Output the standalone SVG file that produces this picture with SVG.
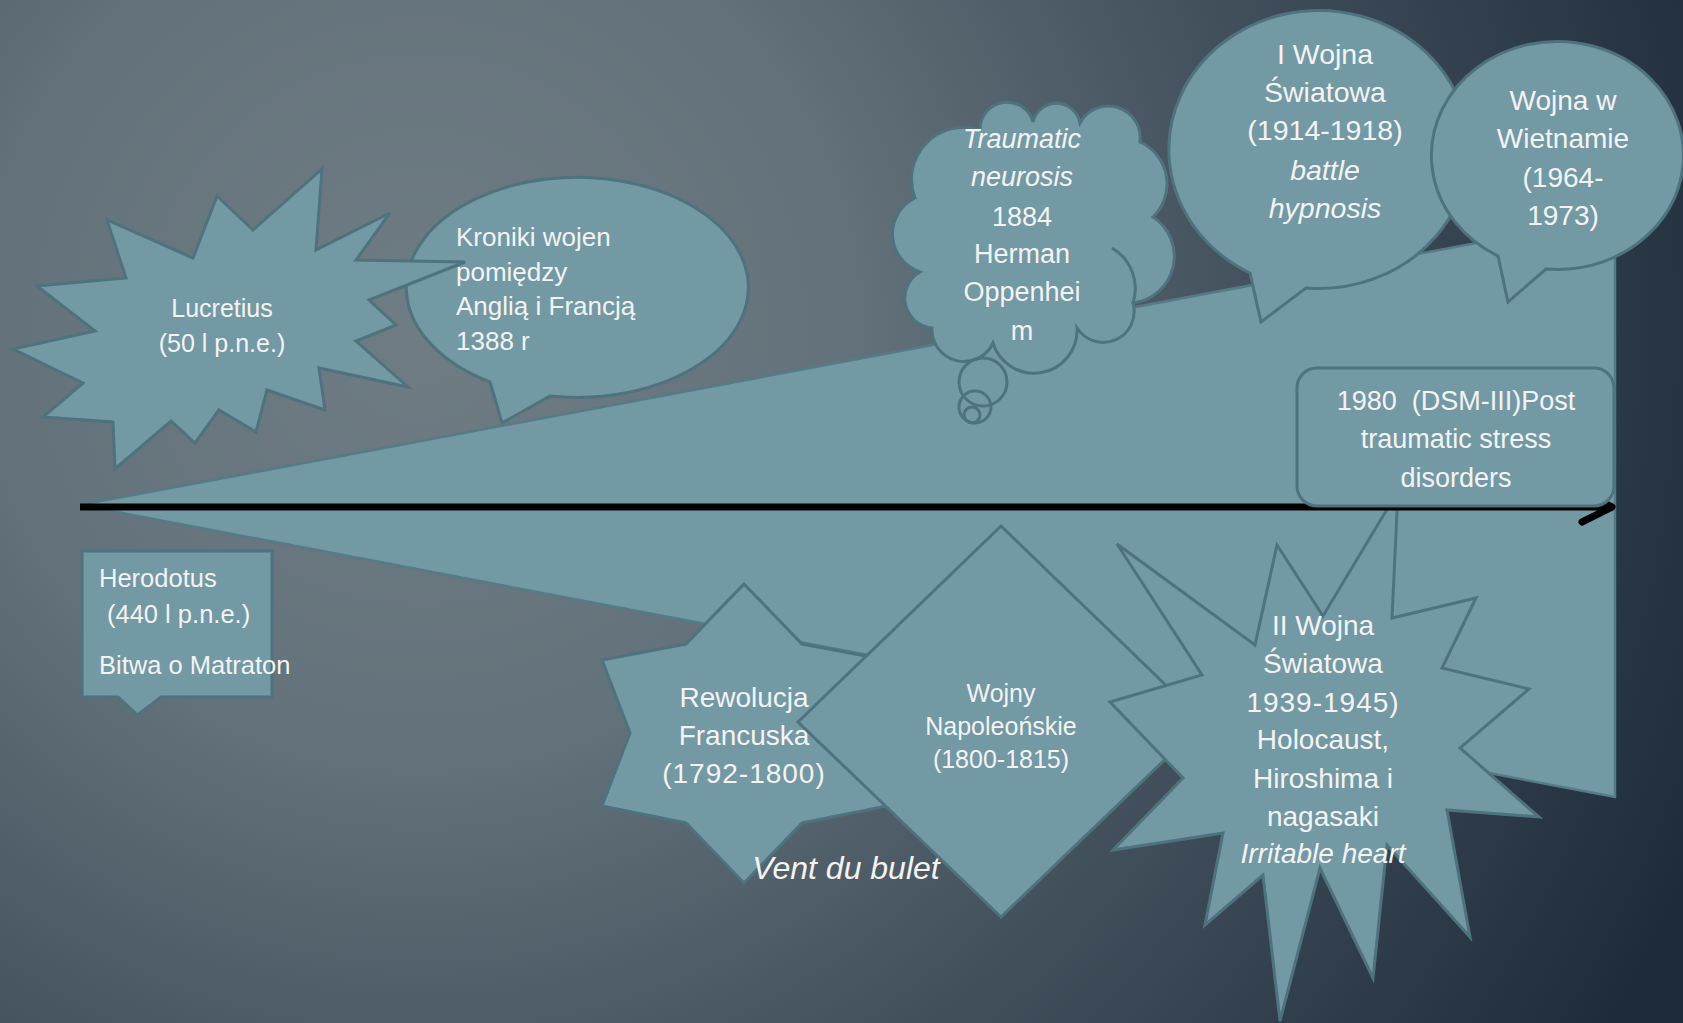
<svg xmlns="http://www.w3.org/2000/svg" width="1683" height="1023" viewBox="0 0 1683 1023">
<defs>
<radialGradient id="bg" gradientUnits="userSpaceOnUse" cx="420" cy="330" r="1400">
<stop offset="0" stop-color="#6f7c84"/>
<stop offset="0.3" stop-color="#64727b"/>
<stop offset="0.6" stop-color="#43515d"/>
<stop offset="1" stop-color="#1d2b39"/>
</radialGradient>
<style>
.s{fill:#7399a4;stroke:#4e737e;stroke-width:3;stroke-linejoin:miter}
.ln{fill:none;stroke:#4e737e;stroke-width:3}
.t{font-family:"Liberation Sans",Arial,sans-serif;fill:#f3f3f3}
.c{text-anchor:middle}
.i{font-style:italic}
</style>
</defs>
<rect width="1683" height="1023" fill="url(#bg)"/>
<g id="wedge">
<polygon points="80,505 1615,217 1615,797" fill="#7399a4" stroke="#557b86" stroke-width="2.5"/>
</g>
<g id="kroniki">
<path class="s" d="M490,382 L502,423 L550,396 A171,110 0 1 0 490,382 Z"/>
<text class="t" font-size="26"><tspan x="456" y="246">Kroniki wojen</tspan><tspan x="456" y="281">pomiędzy</tspan><tspan x="456" y="315">Anglią i Francją</tspan><tspan x="456" y="350">1388 r</tspan></text>
</g>
<g id="lucretius">
<polygon class="s" points="322,169 316,250 390,213 356,260 465,262 369,300 396,325 356,341 408,387 319,368 325,410 267,390 256,432 219,410 195,443 171,421 115,469 113,422 43,417 83,383 13,349 95,331 37,286 126,278 107,220 193,258 217,196 253,230"/>
<text class="t c" font-size="25"><tspan x="222" y="317">Lucretius</tspan><tspan x="222" y="352">(50 l p.n.e.)</tspan></text>
</g>
<g id="herodotus">
<path class="s" d="M82,551 H272 V697 H161 L137.5,715 L118,697 H82 Z"/>
<text class="t" font-size="25.5"><tspan x="99" y="587">Herodotus</tspan><tspan x="107" y="623">(440 l p.n.e.)</tspan><tspan x="99" y="674">Bitwa o Matraton</tspan></text>
</g>
<g id="traumatic-neurosis">
<path class="s" d="M915,198 A52,52 0 0 1 980,130 A27,27 0 0 1 1033,122 A24,24 0 0 1 1080,123 A32,32 0 0 1 1140,142 A46,46 0 0 1 1153,217 A47,47 0 0 1 1133,303 A31,31 0 0 1 1077,328 A43,43 0 0 1 993,343 A32,32 0 0 1 932,328 A30,30 0 0 1 920,272 A40,40 0 0 1 915,198 Z"/>
<path class="ln" d="M1112,248 A47,47 0 0 1 1133,303"/>
<circle class="ln" cx="983" cy="382" r="24"/>
<circle class="ln" cx="975" cy="407" r="16"/>
<circle class="ln" cx="972" cy="415" r="8"/>
<text class="t c" font-size="27"><tspan class="i" x="1022" y="148">Traumatic</tspan><tspan class="i" x="1022" y="186">neurosis</tspan><tspan x="1022" y="226">1884</tspan><tspan x="1022" y="263">Herman</tspan><tspan x="1022" y="301">Oppenhei</tspan><tspan x="1022" y="340">m</tspan></text>
</g>
<g id="wojna-1">
<path class="s" d="M1250,273 L1261,322 L1306,288 A150,139 0 1 0 1250,273 Z"/>
<text class="t c" font-size="28.5"><tspan x="1325" y="64">I Wojna</tspan><tspan x="1325" y="102">Światowa</tspan><tspan x="1325" y="140">(1914-1918)</tspan><tspan class="i" x="1325" y="180">battle</tspan><tspan class="i" x="1325" y="218">hypnosis</tspan></text>
</g>
<g id="wietnam">
<path class="s" d="M1498,256 L1508,302 L1546,269 A126,114 0 1 0 1498,256 Z"/>
<text class="t c" font-size="28"><tspan x="1563" y="110">Wojna w</tspan><tspan x="1563" y="148">Wietnamie</tspan><tspan x="1563" y="187">(1964-</tspan><tspan x="1563" y="225">1973)</tspan></text>
</g>
<g id="rewolucja">
<polygon class="s" points="744,584 802,644 887,660 858,733 887,806 802,823 744,883 686,823 602,806 630,733 602,660 686,644"/>
<text class="t c" font-size="28"><tspan x="744" y="707">Rewolucja</tspan><tspan x="744" y="745">Francuska</tspan><tspan x="744" y="783" letter-spacing="1">(1792-1800)</tspan></text>
</g>
<g id="napoleon">
<polygon class="s" points="1001,526 1204,722 1001,917 798,722"/>
<text class="t c" font-size="25"><tspan x="1001" y="702">Wojny</tspan><tspan x="1001" y="735">Napoleońskie</tspan><tspan x="1001" y="768">(1800-1815)</tspan></text>
</g>
<g id="vent-du-bulet">
<text class="t c i" font-size="32" x="846" y="879">Vent du bulet</text>
</g>
<g id="wojna-2">
<polygon class="s" points="1117,544 1255,645 1277,545 1323,616 1398,491 1392,618 1476,598 1442,668 1529,689 1460,748 1539,817 1447,810 1470,937 1387,845 1373,978 1320,868 1280,1021 1263,875 1205,925 1223,833 1113,850 1183,778 1110,702 1202,675"/>
<text class="t c" font-size="28"><tspan x="1323" y="635">II Wojna</tspan><tspan x="1323" y="673">Światowa</tspan><tspan x="1323" y="712" letter-spacing="1">1939-1945)</tspan><tspan x="1323" y="749">Holocaust,</tspan><tspan x="1323" y="788">Hiroshima i</tspan><tspan x="1323" y="826">nagasaki</tspan><tspan class="i" x="1323" y="863">Irritable heart</tspan></text>
</g>
<g id="connectors">
<line x1="80" y1="507" x2="1611" y2="507" stroke="#000" stroke-width="7"/>
<path d="M1582,492 L1612,507 L1582,522" fill="none" stroke="#000" stroke-width="7" stroke-linecap="round" stroke-linejoin="round"/>
</g>
<g id="dsm-iii">
<rect class="s" x="1297" y="368" width="317" height="138" rx="20"/>
<text class="t c" font-size="27" xml:space="preserve"><tspan x="1456" y="410">1980  (DSM-III)Post</tspan><tspan x="1456" y="448">traumatic stress</tspan><tspan x="1456" y="487">disorders</tspan></text>
</g>
</svg>
